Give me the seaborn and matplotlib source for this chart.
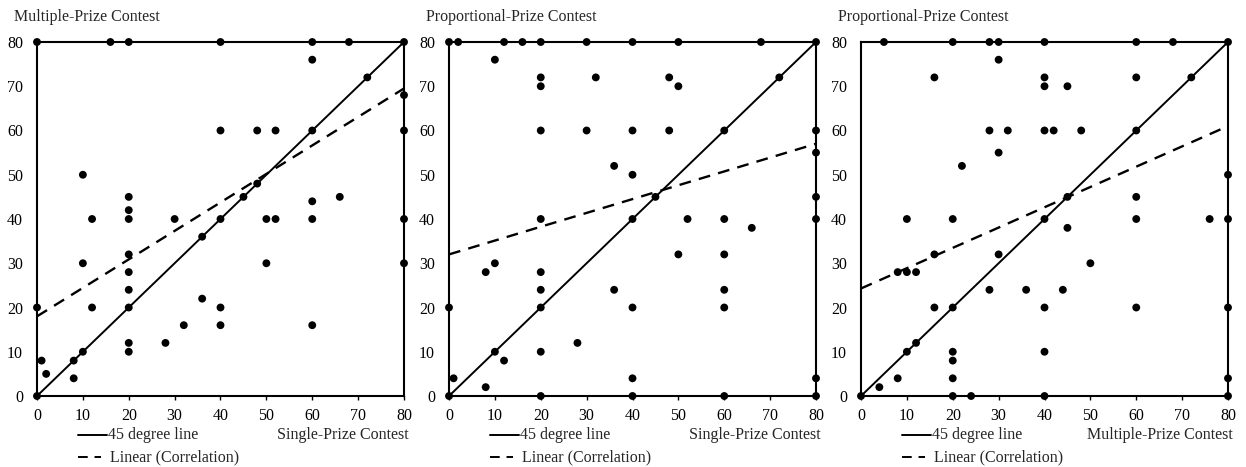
import numpy as np
import pandas as pd
import matplotlib
matplotlib.use('Agg')
import seaborn as sns
import matplotlib.pyplot as plt
from matplotlib.lines import Line2D

sns.set_style("white")
plt.rcParams['font.family'] = ['Liberation Serif', 'DejaVu Serif']

# panel 1: Multiple-Prize (y) vs Single-Prize (x)
p1_x = [0, 16, 20, 40, 60, 68, 80, 60, 72, 80, 40, 48, 52, 60, 80, 10, 20, 45, 66, 48, 60, 20,
        12, 20, 30, 40, 50, 52, 60, 80, 36, 20, 10, 50, 80, 20, 20, 36, 0, 12, 20, 40,
        32, 40, 60, 28, 20, 20, 10, 1, 8, 2, 8, 0]
p1_y = [80, 80, 80, 80, 80, 80, 80, 76, 72, 68, 60, 60, 60, 60, 60, 50, 45, 45, 45, 48, 44, 42,
        40, 40, 40, 40, 40, 40, 40, 40, 36, 32, 30, 30, 30, 28, 24, 22, 20, 20, 20, 20,
        16, 16, 16, 12, 12, 10, 10, 8, 8, 5, 4, 0]
p1_trend = [18, 69.5]

# panel 2: Proportional-Prize (y) vs Single-Prize (x)
p2_x = [0, 2, 12, 16, 20, 30, 40, 50, 68, 80, 10, 20, 32, 48, 72, 20, 50, 20, 30, 40, 48, 60, 80,
        80, 36, 40, 45, 80, 20, 40, 52, 60, 80, 66, 50, 60, 10, 8, 20, 20, 36, 60,
        0, 20, 40, 60, 28, 20, 10, 12, 1, 40, 80, 8, 0, 20, 40, 60, 80]
p2_y = [80, 80, 80, 80, 80, 80, 80, 80, 80, 80, 76, 72, 72, 72, 72, 70, 70, 60, 60, 60, 60, 60, 60,
        55, 52, 50, 45, 45, 40, 40, 40, 40, 40, 38, 32, 32, 30, 28, 28, 24, 24, 24,
        20, 20, 20, 20, 12, 10, 10, 8, 4, 4, 4, 2, 0, 0, 0, 0, 0]
p2_trend = [32, 57]

# panel 3: Proportional-Prize (y) vs Multiple-Prize (x)
p3_x = [5, 20, 28, 30, 40, 60, 68, 80, 30, 16, 40, 60, 72, 40, 45, 28, 32, 40, 42, 48, 60, 30, 22,
        80, 60, 45, 10, 20, 40, 60, 76, 80, 45, 16, 30, 50, 8, 10, 12, 28, 36, 44,
        16, 20, 40, 60, 80, 12, 10, 20, 40, 20, 8, 20, 80, 4, 0, 20, 24, 40, 80]
p3_y = [80, 80, 80, 80, 80, 80, 80, 80, 76, 72, 72, 72, 72, 70, 70, 60, 60, 60, 60, 60, 60, 55, 52,
        50, 45, 45, 40, 40, 40, 40, 40, 40, 38, 32, 32, 30, 28, 28, 28, 24, 24, 24,
        20, 20, 20, 20, 20, 12, 10, 10, 10, 8, 4, 4, 4, 2, 0, 0, 0, 0, 0]
p3_trend = [24.3, 61]

titles = ['Multiple-Prize Contest', 'Proportional-Prize Contest', 'Proportional-Prize Contest']
xlabels = ['Single-Prize Contest', 'Single-Prize Contest', 'Multiple-Prize Contest']
ticks = [0, 10, 20, 30, 40, 50, 60, 70, 80]

panels = [(p1_x, p1_y, p1_trend), (p2_x, p2_y, p2_trend), (p3_x, p3_y, p3_trend)]
lefts = [37, 449, 861]

fig = plt.figure(figsize=(12.46, 4.67), dpi=100)
W, H = 1246.0, 467.0
for i, (xs, ys, trend) in enumerate(panels):
    ax = fig.add_axes([lefts[i] / W, 1 - 396 / H, 367 / W, 354 / H])
    df = pd.DataFrame({'x': xs, 'y': ys})
    ax.plot([0, 80], [0, 80], color='black', lw=1.4, zorder=2)
    ax.plot([0, 80], trend, color='black', lw=1.7, ls=(0, (5, 3.5)), zorder=2)
    sns.scatterplot(data=df, x='x', y='y', ax=ax, color='black', s=32, edgecolor='none',
                    clip_on=False, zorder=5, legend=False)
    ax.set_xlim(0, 80)
    ax.set_ylim(0, 80)
    ax.set_xticks(ticks)
    ax.set_yticks(ticks)
    ax.tick_params(axis='x', direction='out', length=3, width=1, pad=6, labelsize=11.5, colors='black')
    ax.tick_params(axis='y', direction='out', length=0, pad=10, labelsize=11.5, colors='black')
    ax.tick_params(bottom=True, left=False)
    for sp in ax.spines.values():
        sp.set_visible(True)
        sp.set_color('black')
        sp.set_linewidth(1.5)
    ax.set_xlabel('')
    ax.set_ylabel('')
    ax.text(-23 / 367, 1 + 25 / 354, titles[i], transform=ax.transAxes, ha='left', va='center',
            fontsize=11.5)
    ax.text(1 + 5 / 367, -39 / 354, xlabels[i], transform=ax.transAxes, ha='right', va='center',
            fontsize=11.5)
    # legend entries under each panel
    ax.add_line(Line2D([41 / 367, 70 / 367], [-39 / 354, -39 / 354], transform=ax.transAxes,
                       color='black', lw=1.4, clip_on=False))
    ax.text(71 / 367, -39 / 354, '45 degree line', transform=ax.transAxes, ha='left', va='center',
            fontsize=11.5)
    ax.add_line(Line2D([41 / 367, 64 / 367], [-61 / 354, -61 / 354], transform=ax.transAxes,
                       color='black', lw=1.4, ls=(0, (5, 3.5)), clip_on=False))
    ax.text(73 / 367, -61 / 354, 'Linear (Correlation)', transform=ax.transAxes, ha='left',
            va='center', fontsize=11.5)

fig.savefig('out.png', dpi=100)
